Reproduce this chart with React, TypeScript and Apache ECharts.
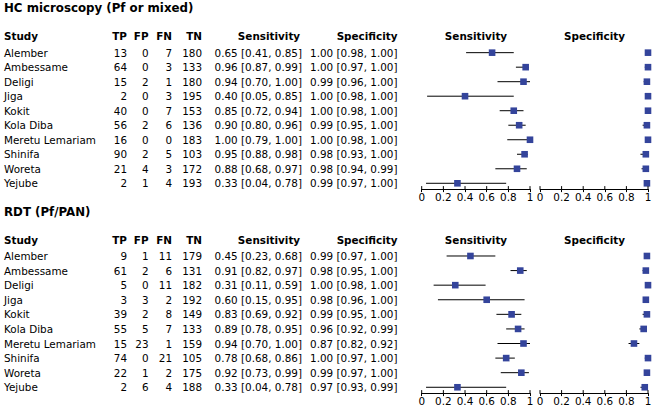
import React, { useEffect, useRef } from "react";
import * as echarts from "echarts";

const studies = ["Alember", "Ambessame", "Deligi", "Jiga", "Kokit", "Kola Diba", "Meretu Lemariam", "Shinifa", "Woreta", "Yejube"];

// HC microscopy (Pf or mixed)
const hcTP = [13, 64, 15, 2, 40, 56, 16, 90, 21, 2];
const hcFP = [0, 0, 2, 0, 0, 2, 0, 2, 4, 1];
const hcFN = [7, 3, 1, 3, 7, 6, 0, 5, 3, 4];
const hcTN = [180, 133, 180, 195, 153, 136, 183, 103, 172, 193];
const hcSens = [0.65, 0.96, 0.94, 0.40, 0.85, 0.90, 1.00, 0.95, 0.88, 0.33];
const hcSensLo = [0.41, 0.87, 0.70, 0.05, 0.72, 0.80, 0.79, 0.88, 0.68, 0.04];
const hcSensHi = [0.85, 0.99, 1.00, 0.85, 0.94, 0.96, 1.00, 0.98, 0.97, 0.78];
const hcSpec = [1.00, 1.00, 0.99, 1.00, 1.00, 0.99, 1.00, 0.98, 0.98, 0.99];
const hcSpecLo = [0.98, 0.97, 0.96, 0.98, 0.98, 0.95, 0.98, 0.93, 0.94, 0.97];
const hcSpecHi = [1.00, 1.00, 1.00, 1.00, 1.00, 1.00, 1.00, 1.00, 0.99, 1.00];

// RDT (Pf/PAN)
const rdtTP = [9, 61, 5, 3, 39, 55, 15, 74, 22, 2];
const rdtFP = [1, 2, 0, 3, 2, 5, 23, 0, 1, 6];
const rdtFN = [11, 6, 11, 2, 8, 7, 1, 21, 2, 4];
const rdtTN = [179, 131, 182, 192, 149, 133, 159, 105, 175, 188];
const rdtSens = [0.45, 0.91, 0.31, 0.60, 0.83, 0.89, 0.94, 0.78, 0.92, 0.33];
const rdtSensLo = [0.23, 0.82, 0.11, 0.15, 0.69, 0.78, 0.70, 0.68, 0.73, 0.04];
const rdtSensHi = [0.68, 0.97, 0.59, 0.95, 0.92, 0.95, 1.00, 0.86, 0.99, 0.78];
const rdtSpec = [0.99, 0.98, 1.00, 0.98, 0.99, 0.96, 0.87, 1.00, 0.99, 0.97];
const rdtSpecLo = [0.97, 0.95, 0.98, 0.96, 0.95, 0.92, 0.82, 0.97, 0.97, 0.93];
const rdtSpecHi = [1.00, 1.00, 1.00, 1.00, 1.00, 0.99, 0.92, 1.00, 1.00, 0.99];

const axisTicks = [0, 0.2, 0.4, 0.6, 0.8, 1];

const FONT = "DejaVu Sans, Verdana, sans-serif";
const FS = 10.4;
const SQ = "#34449B";
const YMAX = 9.4;

const fmt = (v: number) => v.toFixed(2);

function txt(text: string, x: number, y: number, align: string, bold = false, size = FS) {
  return {
    type: "text",
    x,
    y,
    silent: true,
    style: {
      text,
      fontFamily: FONT,
      fontSize: size,
      fontWeight: bold ? "bold" : "normal",
      fill: "#000",
      align,
      verticalAlign: "middle",
    },
  };
}

function tableGraphics(
  title: string,
  titleY: number,
  headerY: number,
  rowY0: number,
  rowStep: number,
  tp: number[], fp: number[], fn: number[], tn: number[],
  se: number[], seLo: number[], seHi: number[],
  sp: number[], spLo: number[], spHi: number[]
) {
  const els: any[] = [];
  els.push(txt(title, 4, titleY, "left", true, 11.8));
  els.push(txt("Study", 4, headerY, "left", true));
  els.push(txt("TP", 127, headerY, "right", true));
  els.push(txt("FP", 148.5, headerY, "right", true));
  els.push(txt("FN", 172, headerY, "right", true));
  els.push(txt("TN", 202, headerY, "right", true));
  els.push(txt("Sensitivity", 269, headerY, "center", true));
  els.push(txt("Specificity", 397.5, headerY, "right", true));
  els.push(txt("Sensitivity", 476, headerY, "center", true));
  els.push(txt("Specificity", 594.5, headerY, "center", true));
  studies.forEach((s, i) => {
    const y = rowY0 + rowStep * i;
    els.push(txt(s, 4, y, "left"));
    els.push(txt(String(tp[i]), 127, y, "right"));
    els.push(txt(String(fp[i]), 148.5, y, "right"));
    els.push(txt(String(fn[i]), 172, y, "right"));
    els.push(txt(String(tn[i]), 202, y, "right"));
    els.push(txt(`${fmt(se[i])} [${fmt(seLo[i])}, ${fmt(seHi[i])}]`, 302, y, "right"));
    els.push(txt(`${fmt(sp[i])} [${fmt(spLo[i])}, ${fmt(spHi[i])}]`, 397.5, y, "right"));
  });
  return els;
}

function renderItem(params: any, api: any) {
  const row = api.value(3);
  const p = api.coord([api.value(0), row]);
  const lo = api.coord([api.value(1), row]);
  const hi = api.coord([api.value(2), row]);
  const h = 3.3;
  return {
    type: "group",
    children: [
      {
        type: "line",
        shape: { x1: lo[0], y1: lo[1], x2: hi[0], y2: hi[1] },
        style: { stroke: "#000", lineWidth: 1 },
      },
      {
        type: "rect",
        shape: { x: p[0] - h, y: p[1] - h, width: 2 * h, height: 2 * h },
        style: { fill: SQ },
      },
    ],
  };
}

function renderTickUp(params: any, api: any) {
  const p = api.coord([api.value(0), YMAX]);
  return {
    type: "line",
    shape: { x1: p[0], y1: p[1], x2: p[0], y2: p[1] - 3 },
    style: { stroke: "#000", lineWidth: 1 },
  };
}

export default function App() {
  const ref = useRef<HTMLDivElement>(null);
  useEffect(() => {
    if (!ref.current) return;
    const chart = echarts.init(ref.current, undefined, { renderer: "svg" });

    const grids = [
      { left: 421.7, width: 108.3, top: 45.4, height: 143.7 },
      { left: 540, width: 108, top: 45.4, height: 143.7 },
      { left: 421.7, width: 108.3, top: 248.7, height: 144.4 },
      { left: 540, width: 108, top: 248.7, height: 144.4 },
    ];

    const xAxes: any[] = [];
    const yAxes: any[] = [];
    grids.forEach((g, gi) => {
      xAxes.push({
        gridIndex: gi,
        type: "value",
        position: "bottom",
        min: 0,
        max: 1,
        interval: 0.2,
        splitLine: { show: false },
        axisLine: { show: true, onZero: false, lineStyle: { color: "#000", width: 1 } },
        axisTick: { show: true, length: 3, inside: false, lineStyle: { color: "#000" } },
        axisLabel: {
          show: true,
          color: "#000",
          fontFamily: FONT,
          fontSize: FS,
          margin: 3,
          formatter: (v: number) => String(Math.round(v * 10) / 10),
        },
      });
      yAxes.push({
        gridIndex: gi,
        type: "value",
        inverse: true,
        min: -0.5,
        max: YMAX,
        show: false,
        axisLine: { onZero: false },
      });
    });

    const mk = (est: number[], lo: number[], hi: number[]) => est.map((v, i) => [v, lo[i], hi[i], i]);

    const seriesData = [
      mk(hcSens, hcSensLo, hcSensHi),
      mk(hcSpec, hcSpecLo, hcSpecHi),
      mk(rdtSens, rdtSensLo, rdtSensHi),
      mk(rdtSpec, rdtSpecLo, rdtSpecHi),
    ];

    const series: any[] = seriesData.map((d, gi) => ({
      type: "custom",
      xAxisIndex: gi,
      yAxisIndex: gi,
      clip: false,
      renderItem,
      encode: { x: [0, 1, 2], y: 3 },
      data: d,
    }));
    grids.forEach((g, gi) => {
      series.push({
        type: "custom",
        xAxisIndex: gi,
        yAxisIndex: gi,
        clip: false,
        silent: true,
        renderItem: renderTickUp,
        encode: { x: 0 },
        data: axisTicks.map((v) => [v]),
      });
    });

    const graphics = [
      ...tableGraphics("HC microscopy (Pf or mixed)", 8, 36, 52.7, 14.51,
        hcTP, hcFP, hcFN, hcTN, hcSens, hcSensLo, hcSensHi, hcSpec, hcSpecLo, hcSpecHi),
      ...tableGraphics("RDT (Pf/PAN)", 212.3, 240, 256, 14.59,
        rdtTP, rdtFP, rdtFN, rdtTN, rdtSens, rdtSensLo, rdtSensHi, rdtSpec, rdtSpecLo, rdtSpecHi),
    ];

    chart.setOption({
      animation: false,
      backgroundColor: "#fff",
      grid: grids,
      xAxis: xAxes,
      yAxis: yAxes,
      series,
      graphic: graphics,
    });
    return () => chart.dispose();
  }, []);
  return <div ref={ref} style={{ position: "fixed", left: 0, top: 0, width: 656, height: 409 }} />;
}
